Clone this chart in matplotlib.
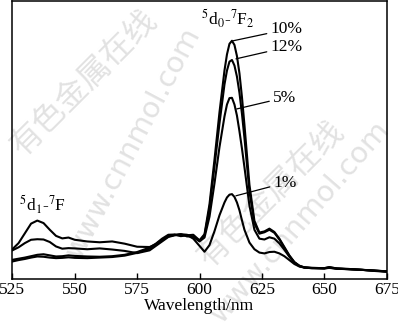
import numpy as np
import matplotlib
matplotlib.use('Agg')
import matplotlib.pyplot as plt

plt.rcParams['font.family'] = ['Liberation Serif', 'DejaVu Serif']
plt.rcParams['mathtext.fontset'] = 'stix'

# wavelength grid (nm)
wl = [525, 527.5, 530, 532.5, 535, 537.5, 540, 542.5, 545, 547.5,
      550, 555, 560, 565, 570, 575, 580, 582.5, 585, 587.5,
      590, 592.5, 595, 597.5, 600, 602, 604, 606, 608, 610,
      611, 612, 613, 614, 615, 616, 617, 618, 620, 622,
      624, 626, 628, 630, 632, 634, 636, 638, 640, 642,
      645, 650, 652, 655, 660, 665, 670, 675]

# intensities (arbitrary units, 0-100 of plot height)
i_1 = [10.8, 13.0, 16.5, 20.0, 21.1, 20.2, 17.8, 15.6, 14.7, 15.0,
       14.2, 13.6, 13.3, 13.6, 12.8, 11.7, 11.6, 12.6, 14.2, 15.5,
       15.9, 15.8, 15.9, 14.6, 12.0, 9.9, 12.3, 17.3, 23.0, 27.6,
       29.4, 30.4, 30.6, 29.6, 27.6, 24.8, 21.2, 17.8, 13.2, 10.8,
       9.6, 9.3, 9.8, 9.9, 9.3, 8.3, 6.9, 5.5, 4.6, 4.2,
       4.0, 3.9, 4.1, 3.8, 3.7, 3.4, 3.2, 2.8]
i_5 = [10.4, 11.5, 13.0, 14.2, 14.4, 14.3, 13.4, 11.8, 11.0, 11.2,
       11.1, 10.8, 11.1, 10.7, 10.2, 9.4, 10.4, 12.0, 13.6, 15.2,
       15.8, 16.2, 16.0, 15.2, 13.6, 15.0, 22.5, 34.5, 47.5, 58.5,
       62.8, 65.1, 65.2, 62.8, 58.8, 53.2, 47.0, 40.3, 26.5, 17.8,
       14.6, 14.3, 15.1, 14.6, 12.9, 10.6, 8.1, 6.0, 4.7, 4.3,
       4.1, 4.0, 4.3, 3.9, 3.7, 3.4, 3.1, 2.9]
i_10 = [7.0, 7.4, 7.8, 8.3, 8.8, 9.0, 8.6, 8.2, 8.3, 8.6,
        8.4, 8.2, 8.1, 8.3, 8.8, 9.8, 11.4, 12.8, 14.6, 16.0,
        16.1, 15.5, 15.8, 16.0, 14.0, 16.2, 27.0, 43.0, 60.0, 75.0,
        80.8, 84.6, 85.7, 84.2, 80.2, 74.0, 65.5, 55.5, 34.0, 21.0,
        16.8, 17.2, 18.2, 17.0, 14.6, 11.6, 8.6, 6.2, 4.9, 4.3,
        4.1, 4.0, 4.4, 3.9, 3.6, 3.4, 3.1, 2.8]
i_12 = [6.4, 6.9, 7.3, 7.8, 8.2, 8.1, 7.8, 7.6, 7.7, 7.9,
        7.7, 7.6, 7.8, 8.0, 8.5, 9.5, 11.0, 12.5, 14.0, 15.4,
        16.0, 16.2, 15.4, 15.4, 13.9, 15.8, 25.5, 40.5, 56.0, 70.0,
        75.0, 78.2, 78.8, 76.8, 72.8, 67.0, 59.5, 50.8, 31.5, 20.0,
        16.4, 16.9, 17.8, 16.7, 14.3, 11.3, 8.4, 6.1, 4.8, 4.2,
        4.0, 3.9, 4.2, 3.8, 3.6, 3.4, 3.0, 2.7]

fig = plt.figure(figsize=(3.98, 3.23), dpi=100)
ax = fig.add_axes([0.031, 0.1353, 0.9406, 0.8617])
ax.set_zorder(2)
ax.patch.set_alpha(0)

# faint watermark behind the axes
wm = '#e2e2e2'
fig.text(0.21, 0.745, '有色金属在线', fontsize=23, color=wm, rotation=45,
         ha='center', va='center', family=['Noto Sans CJK SC'], weight='light', zorder=0)
fig.text(0.68, 0.40, '有色金属在线', fontsize=23, color=wm, rotation=45,
         ha='center', va='center', family=['Noto Sans CJK SC'], weight='light', zorder=0)
fig.text(0.334, 0.557, 'www.cnnmol.com', fontsize=21, color=wm, rotation=62,
         ha='center', va='center', family=['DejaVu Sans'], zorder=0)
fig.text(0.754, 0.313, 'www.cnnmol.com', fontsize=21, color=wm, rotation=49,
         ha='center', va='center', family=['DejaVu Sans'], zorder=0)

for y in (i_1, i_5, i_10, i_12):
    ax.plot(wl, y, color='black', lw=1.5)

fs = 12.5
ax.set_xlim(525, 675)
ax.set_ylim(0, 100)
ax.set_xticks([525, 550, 575, 600, 625, 650, 675])
ax.set_yticks([])
ax.tick_params(axis='x', direction='in', length=4, width=1, labelsize=fs, pad=2)
for s in ax.spines.values():
    s.set_linewidth(1.1)
ax.set_xlabel('Wavelength/nm', fontsize=fs, labelpad=0)

lab = dict(fontsize=fs, ha='left', va='center',
           arrowprops=dict(arrowstyle='-', lw=0.9, color='black', shrinkA=1, shrinkB=0))
ax.annotate('10%', xy=(613.5, 85.7), xytext=(628.6, 89.8), **lab)
ax.annotate('12%', xy=(614.6, 79.2), xytext=(628.6, 83.4), **lab)
ax.annotate('5%', xy=(614.9, 61.2), xytext=(629.6, 65.3), **lab)
ax.annotate('1%', xy=(614.6, 30.0), xytext=(629.8, 34.7), **lab)

ax.text(611.4, 93.5, r'$^{5}$d$_{0}$-$^{7}$F$_{2}$', fontsize=fs, ha='center', va='center')
ax.text(537.0, 26.7, r'$^{5}$d$_{1}$-$^{7}$F', fontsize=fs, ha='center', va='center')

fig.savefig('out.png', dpi=100)
